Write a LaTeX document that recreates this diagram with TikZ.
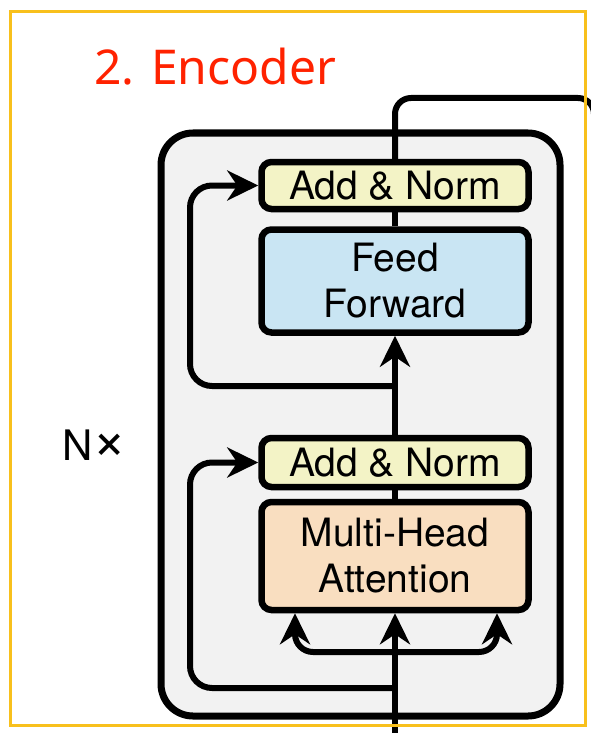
\documentclass[tikz,border=0pt]{standalone}
\usepackage{fontspec}
\setmainfont{TeX Gyre Heros}
\newfontfamily\titlefont{Noto Sans}
\usetikzlibrary{arrows.meta}
\definecolor{annorm}{HTML}{F3F3C6}
\definecolor{ffblue}{HTML}{C9E5F3}
\definecolor{mhaor}{HTML}{F9DEC0}
\definecolor{layergray}{HTML}{F2F2F2}
\definecolor{titlered}{HTML}{FF2200}
\definecolor{frameyellow}{HTML}{F8C01C}
\tikzset{
  blk/.style={draw=black, line width=6.5pt, rounded corners=10pt, minimum width=267pt,
    inner sep=0pt, align=center, font=\fontsize{39}{46}\selectfont},
  conn/.style={draw=black, line width=6pt},
  arr/.style={-{Stealth[length=31pt 0 0,width=30pt 0,inset=10pt 0]}},
}
\begin{document}
\begin{tikzpicture}[x=1pt,y=-1pt]
\useasboundingbox (0,0) rectangle (590,733);
\fill[white] (0,0) rectangle (590,733);
% title
\node[anchor=base west, inner sep=0pt, text=titlered, font=\titlefont\fontsize{48}{58}\selectfont] (title) at (94,85) {2. Encoder};
% repeat label
\node[inner sep=0pt, font=\fontsize{42}{50}\selectfont] (nx) at (95,445) {N\raisebox{0.03em}{\scalebox{1.4}{×}}};
% outer layer box
\node[draw=black, fill=layergray, line width=7pt, rounded corners=32pt, minimum width=399pt, minimum height=583pt, inner sep=0pt] (layer) at (360.5,424.5) {};
% blocks
\node[blk, fill=annorm, minimum height=47pt] (an2) at (395,185.5) {Add \& Norm};
\node[blk, fill=ffblue, minimum height=103pt] (ff) at (395,281) {Feed\\Forward};
\node[blk, fill=annorm, minimum height=49pt] (an1) at (395,462.5) {Add \& Norm};
\node[blk, fill=mhaor, minimum height=108pt] (mha) at (395,556) {Multi-Head\\Attention};
% helper coordinates
\coordinate (input) at (395,745);
\coordinate (split) at (395,652);
\coordinate (res1) at (395,688);
\coordinate (res2) at (395,386);
\coordinate (lane1) at (190,600);
\coordinate (lane2) at (190,300);
\coordinate (outA) at (594,98);
\coordinate (outB) at (594,150);
% connectors
\draw[conn, arr] (input) -- (mha.south);
\draw[conn, arr, rounded corners=18pt] (split) -| ([xshift=-100pt]mha.south);
\draw[conn, arr, rounded corners=18pt] (split) -| ([xshift=102pt]mha.south);
\draw[conn] (mha.north) -- (an1.south);
\draw[conn, arr] (an1.north) -- (ff.south);
\draw[conn] (ff.north) -- (an2.south);
\draw[conn, arr, rounded corners=22pt] (res1) -| (lane1) |- (an1.west);
\draw[conn, arr, rounded corners=22pt] (res2) -| (lane2) |- (an2.west);
\draw[conn, rounded corners=16pt] (an2.north) |- (outA) -- (outB);
% frame
\node[draw=frameyellow, line width=3pt, minimum width=575pt, minimum height=713pt, inner sep=0pt] (frame) at (297.5,368.5) {};
\end{tikzpicture}
\end{document}
